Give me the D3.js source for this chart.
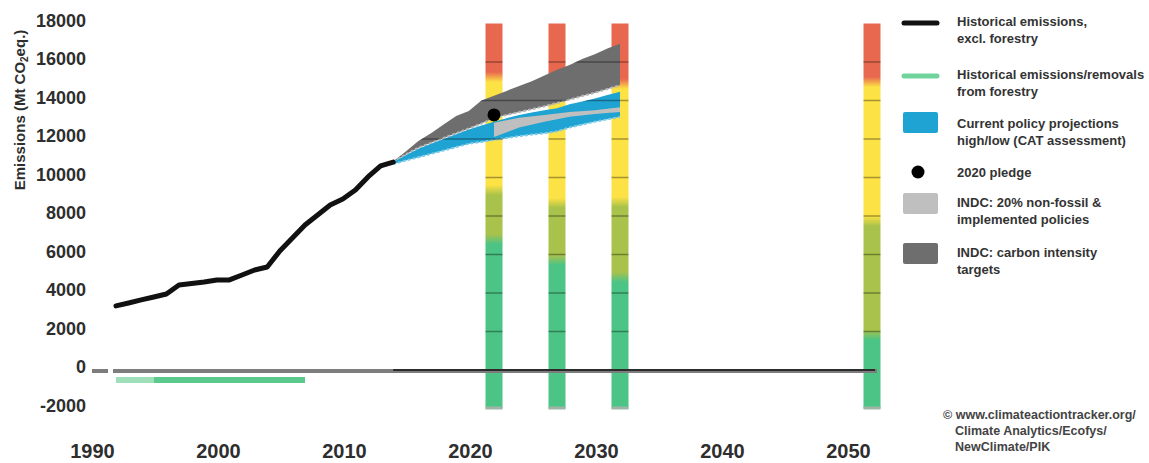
<!DOCTYPE html>
<html>
<head>
<meta charset="utf-8">
<script src="https://cdn.jsdelivr.net/npm/d3@7"></script>
<style>
  html, body { margin: 0; padding: 0; background: #fff; }
  svg { display: block; font-family: "Liberation Sans", Arial, sans-serif; }
</style>
</head>
<body>
<svg id="chart" width="1149" height="463"></svg>
<script>
// ---- Data (Mt CO2eq.) ----
const histYears  = [1990,1991,1992,1993,1994,1995,1996,1997,1998,1999,2000,2001,2002,2003,2004,2005,2006,2007,2008,2009,2010,2011,2012];
const histValues = [3330,3480,3640,3790,3950,4415,4490,4570,4675,4680,4935,5195,5350,6180,6860,7530,8050,8570,8880,9350,10030,10600,10800];

const forestryYears  = [1990,1991,1992,1993,1994,1995,1996,1997,1998,1999,2000,2001,2002,2003,2004,2005];
const forestryValues = [-520,-520,-520,-520,-520,-520,-520,-520,-520,-520,-520,-520,-520,-520,-520,-520];
const forestryEarlyEnd = 1993;

const projYears = [2012,2013,2014,2015,2016,2017,2018,2019,2020,2021,2022,2023,2024,2025,2026,2027,2028,2029,2030];
// INDC: carbon intensity targets (upper / lower edge)
const intensityHigh = [10850,11350,11900,12300,12750,13200,13450,14000,14250,14500,14750,15000,15300,15600,15850,16150,16400,16700,16950];
const intensityLow  = [10820,11200,11550,11800,12050,12300,12550,12800,13100,13250,13400,13550,13700,13870,14050,14230,14400,14600,14800];
// Current policy projections high / low (CAT assessment)
const policyHigh = [10800,11150,11500,11750,12000,12250,12500,12700,12900,13080,13250,13380,13500,13600,13800,13950,14100,14280,14450];
const policyLow  = [10700,10880,11050,11230,11400,11580,11750,11850,11950,12050,12150,12230,12300,12400,12600,12750,12900,13020,13150];

// INDC: 20% non-fossil & implemented policies
const nonFossilYears = [2020,2022,2024,2026,2028,2030];
const nonFossilHigh  = [12850,13100,13250,13400,13500,13650];
const nonFossilLow   = [12100,12600,12900,13150,13300,13400];

const pledgeYear = 2020;
const pledgeValue = 13250;

// Rating bars: value thresholds between colour bands
const barYears     = [2020, 2025, 2030, 2050];
const redFloor     = [15220, 14900, 14860, 14960];
const yellowFloor  = [9350, 8680, 8730, 7740];
const oliveFloor   = [6800, 5710, 4830, 1820];
const barTop = 18000;
const barBottom = -2000;

const yTicks = [18000,16000,14000,12000,10000,8000,6000,4000,2000,0,-2000];
const gridValues = [16000,14000,12000,10000,8000,6000,4000,2000];
const xTicks = [1990,2000,2010,2020,2030,2040,2050];

const legendItems = [
  {type: "line", color: "#111111", lines: ["Historical emissions,", "excl. forestry"]},
  {type: "line", color: "#6fd39b", lines: ["Historical emissions/removals", "from forestry"]},
  {type: "rect", color: "#1fa3d2", lines: ["Current policy projections", "high/low (CAT assessment)"]},
  {type: "dot",  color: "#000000", lines: ["2020 pledge"]},
  {type: "rect", color: "#bfbfbf", lines: ["INDC: 20% non-fossil &", "implemented policies"]},
  {type: "rect", color: "#6e6e6e", lines: ["INDC: carbon intensity", "targets"]}
];
const legendRows = [23, 76, 123, 172, 204, 254];

const sourceLines = ["\u00a9 www.climateactiontracker.org/", "Climate Analytics/Ecofys/", "NewClimate/PIK"];

// ---- Colours ----
const RED = "#e8684f", YELLOW = "#fde245", OLIVE = "#a9c24b", GREEN = "#4cc485";

// ---- Scales ----
const x = d3.scaleLinear().domain([1990, 2050]).range([116, 872]);
const y = d3.scaleLinear().domain([0, 18000]).range([370, 23.5]);

const svg = d3.select("#chart");
const defs = svg.append("defs");

// ---- Rating bars ----
const barW = 17;
const yT = y(barTop), yB = y(barBottom);
barYears.forEach((yr, i) => {
  const off = v => Math.max(0, Math.min(1, (y(v) - yT) / (yB - yT)));
  const h = 260;
  const stops = [
    [0, RED],
    [off(redFloor[i] + h), RED], [off(redFloor[i] - h), YELLOW],
    [off(yellowFloor[i] + h), YELLOW], [off(yellowFloor[i] - h), OLIVE],
    [off(oliveFloor[i] + h), OLIVE], [off(oliveFloor[i] - h), GREEN],
    [1, GREEN]
  ];
  const g = defs.append("linearGradient")
    .attr("id", "bar" + i)
    .attr("gradientUnits", "userSpaceOnUse")
    .attr("x1", 0).attr("x2", 0).attr("y1", yT).attr("y2", yB);
  g.selectAll("stop").data(stops).join("stop")
    .attr("offset", d => d[0]).attr("stop-color", d => d[1]);
});

const barsG = svg.append("g");
barsG.selectAll("rect.bar").data(barYears).join("rect")
  .attr("class", "bar")
  .attr("x", d => x(d) - barW / 2)
  .attr("y", yT)
  .attr("width", barW)
  .attr("height", yB - yT)
  .attr("fill", (d, i) => `url(#bar${i})`);
barsG.selectAll("rect.foot").data(barYears).join("rect")
  .attr("class", "foot")
  .attr("x", d => x(d) - barW / 2)
  .attr("y", yB - 2)
  .attr("width", barW)
  .attr("height", 3)
  .attr("fill", "#9fb5a8");

// ---- Projection areas ----
const band = (xs, hi, lo) => d3.area()
  .x((d, i) => x(xs[i])).y0((d, i) => y(lo[i])).y1((d, i) => y(hi[i]))(xs);
const edge = (xs, vs) => d3.line().x((d, i) => x(xs[i])).y((d, i) => y(vs[i]))(xs);

const intensityPath = band(projYears, intensityHigh, intensityLow);
const policyPath = band(projYears, policyHigh, policyLow);

svg.append("path").attr("d", intensityPath).attr("fill", "#6e6e6e");
svg.append("path").attr("d", edge(projYears, intensityLow))
  .attr("fill", "none").attr("stroke", "#b5b5b5").attr("stroke-width", 2)
  .attr("stroke-dasharray", "3,2");

svg.append("path").attr("d", policyPath).attr("fill", "#1fa3d2");
svg.append("path").attr("d", edge(projYears, policyLow))
  .attr("fill", "none").attr("stroke", "#7ccbe8").attr("stroke-width", 2)
  .attr("stroke-dasharray", "3,2");

svg.append("path").attr("d", band(nonFossilYears, nonFossilHigh, nonFossilLow))
  .attr("fill", "#bfbfbf");

// ---- Grid ticks, only visible on the coloured marks ----
const clip = defs.append("clipPath").attr("id", "marks");
barYears.forEach(d => clip.append("rect")
  .attr("x", x(d) - barW / 2).attr("y", yT).attr("width", barW).attr("height", yB - yT));
clip.append("path").attr("d", intensityPath);
clip.append("path").attr("d", policyPath);

svg.append("g").attr("clip-path", "url(#marks)")
  .selectAll("line").data(gridValues).join("line")
  .attr("x1", 90).attr("x2", 890)
  .attr("y1", d => y(d)).attr("y2", d => y(d))
  .attr("stroke", "rgba(0,0,0,0.35)").attr("stroke-width", 1.6);

// ---- Pledge ----
svg.append("circle").attr("cx", x(pledgeYear)).attr("cy", y(pledgeValue))
  .attr("r", 6.5).attr("fill", "#000");

// ---- Zero line ----
svg.append("line").attr("x1", 92).attr("x2", 108).attr("y1", y(0) + 1).attr("y2", y(0) + 1)
  .attr("stroke", "#7d7d7d").attr("stroke-width", 4);
svg.append("line").attr("x1", 113).attr("x2", 877).attr("y1", y(0) + 1).attr("y2", y(0) + 1)
  .attr("stroke", "#7d7d7d").attr("stroke-width", 4);
svg.append("line").attr("x1", x(2012)).attr("x2", 875).attr("y1", y(0)).attr("y2", y(0))
  .attr("stroke", "#111").attr("stroke-width", 1.6);

// ---- Forestry line ----
const forestryLine = d3.line().x(d => x(d[0])).y(d => y(d[1]));
const forestry = forestryYears.map((yr, i) => [yr, forestryValues[i]]);
svg.append("path").attr("d", forestryLine(forestry.filter(d => d[0] <= forestryEarlyEnd)))
  .attr("fill", "none").attr("stroke", "#9fe0bb").attr("stroke-width", 6);
svg.append("path").attr("d", forestryLine(forestry.filter(d => d[0] >= forestryEarlyEnd)))
  .attr("fill", "none").attr("stroke", "#5cc98d").attr("stroke-width", 6);

// ---- Historical emissions ----
svg.append("path")
  .attr("d", d3.line().x((d, i) => x(histYears[i])).y(d => y(d))(histValues))
  .attr("fill", "none").attr("stroke", "#111").attr("stroke-width", 5)
  .attr("stroke-linejoin", "round").attr("stroke-linecap", "round");

// ---- Axes ----
const plainInt = d => String(d);   // hyphen-minus for negatives
const yAxis = svg.append("g").attr("transform", "translate(86,-3)")
  .call(d3.axisLeft(y).tickValues(yTicks).tickSize(0).tickPadding(0).tickFormat(plainInt));
yAxis.select(".domain").remove();
yAxis.selectAll("text").attr("font-size", 18).attr("font-weight", "bold").attr("fill", "#2e2e2e")
  .attr("font-family", "'Liberation Sans', Arial, sans-serif");

const xAxis = svg.append("g").attr("transform", "translate(-24,444)")
  .call(d3.axisBottom(x).tickValues(xTicks).tickSize(0).tickPadding(0).tickFormat(plainInt));
xAxis.select(".domain").remove();
xAxis.selectAll("text").attr("font-size", 20).attr("font-weight", "bold").attr("fill", "#2e2e2e")
  .attr("font-family", "'Liberation Sans', Arial, sans-serif");

// Y axis title
const yTitle = svg.append("text")
  .attr("transform", "translate(25,110) rotate(-90)")
  .attr("text-anchor", "middle")
  .attr("font-size", 15).attr("font-weight", "bold").attr("fill", "#2e2e2e");
yTitle.append("tspan").text("Emissions (Mt CO");
yTitle.append("tspan").attr("font-size", 10).attr("dy", 3).text("2");
yTitle.append("tspan").attr("dy", -3).text("eq.)");

// ---- Legend ----
const lg = svg.append("g");
legendItems.forEach((item, i) => {
  const cy = legendRows[i];
  if (item.type === "line") {
    lg.append("line").attr("x1", 904).attr("x2", 937).attr("y1", cy).attr("y2", cy)
      .attr("stroke", item.color).attr("stroke-width", 5).attr("stroke-linecap", "round");
  } else if (item.type === "rect") {
    lg.append("rect").attr("x", 903).attr("y", cy - 11).attr("width", 35).attr("height", 21)
      .attr("rx", 2).attr("fill", item.color);
  } else {
    lg.append("circle").attr("cx", 918).attr("cy", cy).attr("r", 6.5).attr("fill", item.color);
  }
  const t = lg.append("text").attr("x", 957).attr("y", cy + 4.5)
    .attr("font-size", 13).attr("font-weight", "bold").attr("fill", "#333");
  item.lines.forEach((ln, k) => t.append("tspan").attr("x", 957)
    .attr("dy", k === 0 ? (i === 2 ? 0 : (item.lines.length > 1 ? -2 : 0)) : 17).text(ln));
});

// ---- Source ----
const src = svg.append("text").attr("font-size", 12.5).attr("font-weight", "bold").attr("fill", "#444");
sourceLines.forEach((ln, k) => src.append("tspan")
  .attr("x", k === 0 ? 943 : 955).attr("y", 419 + k * 16).text(ln));
</script>
</body>
</html>
